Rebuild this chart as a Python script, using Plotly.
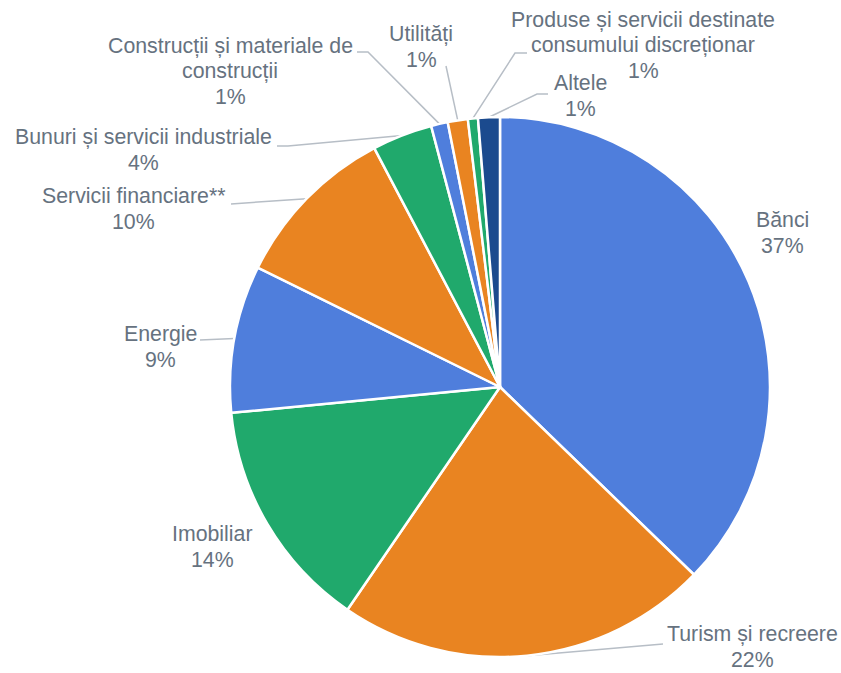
import math
import plotly.graph_objects as go

# ---- data ----
labels = ["Bănci", "Turism și recreere", "Imobiliar", "Energie", "Servicii financiare**",
          "Bunuri și servicii industriale", "Construcții și materiale de<br>construcții",
          "Utilități", "Produse și servicii destinate<br>consumului discreționar", "Altele"]
values = [37.2, 22.3, 13.9, 8.8, 10.0, 3.6, 1.0, 1.2, 0.6, 1.3]
colors = ["#4f7edc", "#e98421", "#20a96c", "#4f7edc", "#e98421", "#20a96c",
          "#4f7edc", "#e98421", "#20a96c", "#1b4a8e"]

# ---- layout constants (pixels) ----
W, H = 841, 673
CX, CY, R = 500, 387, 270
LINE_H = 25.5
# label text block centre positions
label_pos = [(782, 233), (752, 647), (212, 547), (160, 347), (133, 209),
             (143, 150), (230, 71), (421, 47), (643, 45), (580, 96)]
# leader line path from text side (None = no line); edge point appended from data
leader = [None, [(663, 644)], None, [(200, 340)], [(231, 204)],
          [(277, 146), (288, 146)], [(357, 52), (368, 52)], [(446, 66)],
          [(527, 53), (515, 53)], [(548, 94), (537, 94)]]

fig = go.Figure()
fig.add_trace(go.Pie(
    labels=labels, values=values, sort=False, direction="clockwise", rotation=0,
    marker=dict(colors=colors, line=dict(color="white", width=2.5)),
    textinfo="none", hoverinfo="label+percent", showlegend=False,
    domain=dict(x=[(CX - R) / W, (CX + R) / W], y=[1 - (CY + R) / H, 1 - (CY - R) / H]),
))

total = sum(values)
cum = 0.0
annotations = []
font = dict(family="Liberation Sans, Arial, sans-serif", size=21.3, color="#66727f")
for i, v in enumerate(values):
    mid = (cum + v / 2) / total * 2 * math.pi
    cum += v
    ex = CX + R * math.sin(mid)
    ey = CY - R * math.cos(mid)
    if leader[i] is not None:
        pts = leader[i] + [(ex, ey)]
        fig.add_trace(go.Scatter(
            x=[p[0] for p in pts], y=[p[1] for p in pts], mode="lines",
            line=dict(color="#b7bec6", width=1.5), hoverinfo="skip",
            showlegend=False, xaxis="x", yaxis="y"))
    pct = round(v / total * 100)
    lines = labels[i].split("<br>") + [f"{pct}%"]
    lx, ly = label_pos[i]
    n = len(lines)
    for k, t in enumerate(lines):
        annotations.append(dict(
            x=lx, y=ly + (k - (n - 1) / 2) * LINE_H, xref="x", yref="y", text=t,
            showarrow=False, align="center", xanchor="center", yanchor="middle",
            font=font, borderpad=0))

fig.update_layout(
    width=W, height=H, margin=dict(l=0, r=0, t=0, b=0),
    paper_bgcolor="white", plot_bgcolor="rgba(0,0,0,0)",
    xaxis=dict(range=[0, W], visible=False, fixedrange=True, domain=[0, 1]),
    yaxis=dict(range=[H, 0], visible=False, fixedrange=True, domain=[0, 1]),
    annotations=annotations,
)
fig.write_html("out.html", config={"displayModeBar": False},
               post_script="document.body.style.margin='0';document.body.style.overflow='hidden';")
